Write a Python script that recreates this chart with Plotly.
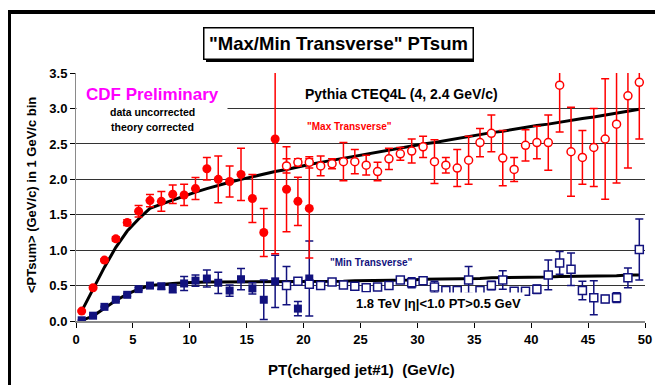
import plotly.graph_objects as go

# ---------------- data ----------------
# bin centres (1 GeV/c bins)
x_minbias = [0.5, 1.5, 2.5, 3.5, 4.5, 5.5, 6.5, 7.5, 8.5, 9.5, 10.5, 11.5, 12.5, 13.5,
             14.5, 15.5, 16.5, 17.5, 18.5, 19.5, 20.5]
x_jet20 = [18.5, 19.5, 20.5, 21.5, 22.5, 23.5, 24.5, 25.5, 26.5, 27.5, 28.5, 29.5, 30.5,
           31.5, 32.5, 33.5, 34.5, 35.5, 36.5, 37.5, 38.5, 39.5, 40.5, 41.5, 42.5, 43.5,
           44.5, 45.5, 46.5, 47.5, 48.5, 49.5]
x_theory = [0.5, 1.5, 2.5, 3.5, 4.5, 5.5, 6.5, 7.5, 8.5, 9.5, 10.5, 11.5, 12.5, 13.5, 14.5,
            15.5, 16.5, 17.5, 18.5, 19.5, 20.5, 21.5, 22.5, 23.5, 24.5, 25.5, 26.5, 27.5,
            28.5, 29.5, 30.5, 31.5, 32.5, 33.5, 34.5, 35.5, 36.5, 37.5, 38.5, 39.5, 40.5,
            41.5, 42.5, 43.5, 44.5, 45.5, 46.5, 47.5, 48.5, 49.5]

max_minbias = [0.14, 0.47, 0.86, 1.16, 1.39, 1.55, 1.70, 1.69, 1.79, 1.78, 1.87, 2.15, 2.00,
               1.97, 2.07, 1.73, 1.25, 2.57, 1.86, 1.69, 1.59]
max_minbias_err = [0.01, 0.01, 0.02, 0.03, 0.04, 0.08, 0.085, 0.14, 0.13, 0.15, 0.155, 0.16,
                   0.33, 0.22, 0.37, 0.34, 0.34, 1.62, 0.60, 0.34, 0.70]
max_jet20 = [2.19, 2.24, 2.24, 2.19, 2.22, 2.25, 2.25, 2.20, 2.11, 2.29, 2.36, 2.40, 2.46,
             2.25, 2.20, 2.16, 2.27, 2.52, 2.65, 2.30, 2.14, 2.48, 2.52, 2.52, 3.33, 2.39,
             2.31, 2.45, 2.57, 2.78, 3.18, 3.37]
max_jet20_err = [0.10, 0.05, 0.08, 0.14, 0.07, 0.27, 0.17, 0.14, 0.13, 0.15, 0.09, 0.17, 0.15,
                 0.31, 0.11, 0.26, 0.34, 0.20, 0.26, 0.39, 0.17, 0.22, 0.23, 0.39, 0.66, 0.63,
                 0.38, 0.55, 0.85, 0.83, 1.02, 0.80]

min_minbias = [0.01, 0.075, 0.20, 0.30, 0.37, 0.45, 0.50, 0.49, 0.46, 0.53, 0.57, 0.60, 0.54,
               0.43, 0.59, 0.46, 0.30, 0.56, 0.50, 0.175, 0.60]
min_minbias_err = [0.005, 0.01, 0.01, 0.02, 0.02, 0.02, 0.03, 0.04, 0.06, 0.10, 0.08, 0.12,
                   0.15, 0.08, 0.15, 0.08, 0.28, 0.37, 0.05, 0.10, 0.53]
min_jet20 = [0.50, 0.56, 0.52, 0.50, 0.55, 0.51, 0.49, 0.47, 0.48, 0.50, 0.58, 0.54, 0.57,
             0.48, 0.43, 0.43, 0.58, 0.43, 0.50, 0.58, 0.42, 0.42, 0.45, 0.65, 0.82, 0.73,
             0.43, 0.33, 0.31, 0.33, 0.61, 1.01]
min_jet20_err = [0.27, 0.03, 0.03, 0.03, 0.03, 0.03, 0.03, 0.03, 0.03, 0.03, 0.03, 0.07, 0.03,
                 0.08, 0.04, 0.04, 0.19, 0.04, 0.06, 0.13, 0.05, 0.05, 0.06, 0.21, 0.16, 0.23,
                 0.13, 0.24, 0.05, 0.07, 0.14, 0.43]

max_theory = [0.14, 0.45, 0.76, 1.04, 1.27, 1.44, 1.59, 1.65, 1.71, 1.76, 1.82, 1.87, 1.92,
              1.96, 2.00, 2.04, 2.08, 2.11, 2.14, 2.18, 2.21, 2.24, 2.27, 2.30, 2.33, 2.36,
              2.39, 2.42, 2.45, 2.47, 2.50, 2.52, 2.55, 2.58, 2.60, 2.63, 2.66, 2.68, 2.71,
              2.73, 2.76, 2.78, 2.81, 2.83, 2.86, 2.88, 2.91, 2.93, 2.96, 2.99]
min_theory = [0.01, 0.07, 0.18, 0.29, 0.38, 0.45, 0.50, 0.52, 0.53, 0.54, 0.55, 0.55, 0.55,
              0.55, 0.55, 0.55, 0.55, 0.55, 0.55, 0.55, 0.55, 0.555, 0.56, 0.56, 0.57, 0.57,
              0.57, 0.58, 0.58, 0.58, 0.59, 0.59, 0.59, 0.60, 0.60, 0.60, 0.61, 0.61, 0.61,
              0.62, 0.62, 0.62, 0.63, 0.63, 0.63, 0.64, 0.64, 0.64, 0.65, 0.65]

x_ticks = [0, 5, 10, 15, 20, 25, 30, 35, 40, 45, 50]
y_ticks = [0.0, 0.5, 1.0, 1.5, 2.0, 2.5, 3.0, 3.5]
y_tick_labels = ["0.0", "0.5", "1.0", "1.5", "2.0", "2.5", "3.0", "3.5"]

# ---------------- style ----------------
FONT = "Liberation Sans, Arial, sans-serif"
RED = "#ff0000"
NAVY = "#12127e"
GRID = "#333333"
W, H = 663, 385
OFF = 8  # the page body adds an 8px offset
# plot area in screen pixels
PX0, PX1, PY0, PY1 = 76, 645, 73, 321
ML, MT = PX0 - OFF, PY0 - OFF
MR, MB = W - (PX1 - OFF), H - (PY1 - OFF)
PW, PH = PX1 - PX0, PY1 - PY0
XR = [0, 50]
YR = [0, 3.502]


def pp(xp, yp):
    """screen pixel -> paper coordinates"""
    return (xp - PX0) / PW, (PY1 - yp) / PH


fig = go.Figure()

# theory curves
fig.add_trace(go.Scatter(x=x_theory, y=max_theory, mode="lines",
                         line=dict(color="black", width=3), hoverinfo="skip"))
fig.add_trace(go.Scatter(x=x_theory, y=min_theory, mode="lines",
                         line=dict(color="black", width=3), hoverinfo="skip"))

# data
fig.add_trace(go.Scatter(
    x=x_minbias, y=min_minbias, mode="markers",
    marker=dict(symbol="square", size=8, color=NAVY, line=dict(width=0)),
    error_y=dict(type="data", array=min_minbias_err, color=NAVY, thickness=1.5, width=4)))
fig.add_trace(go.Scatter(
    x=x_jet20, y=min_jet20, mode="markers",
    marker=dict(symbol="square", size=8, color="white", line=dict(color=NAVY, width=1.5)),
    error_y=dict(type="data", array=min_jet20_err, color=NAVY, thickness=1.5, width=4)))
fig.add_trace(go.Scatter(
    x=x_minbias, y=max_minbias, mode="markers",
    marker=dict(symbol="circle", size=9, color=RED, line=dict(width=0)),
    error_y=dict(type="data", array=max_minbias_err, color=RED, thickness=1.5, width=4)))
fig.add_trace(go.Scatter(
    x=x_jet20, y=max_jet20, mode="markers",
    marker=dict(symbol="circle", size=8, color="white", line=dict(color=RED, width=1.5)),
    error_y=dict(type="data", array=max_jet20_err, color=RED, thickness=1.5, width=4)))

bold = dict(family=FONT, weight="bold", color="black")

fig.update_layout(
    width=W, height=H, margin=dict(l=ML, r=MR, t=MT, b=MB, pad=0),
    paper_bgcolor="white", plot_bgcolor="white", showlegend=False,
    xaxis=dict(range=XR, tickvals=x_ticks, ticks="outside", ticklen=5, tickwidth=1,
               tickcolor="black", showgrid=False, zeroline=False, showline=True,
               linecolor="#8a8a8a", linewidth=2, tickfont=dict(size=13, **bold)),
    yaxis=dict(range=YR, tickvals=y_ticks, ticktext=y_tick_labels, ticks="outside",
               ticklen=5, tickwidth=1, tickcolor="black", showgrid=True, gridcolor=GRID,
               gridwidth=1, zeroline=False, showline=True, linecolor="#8a8a8a", linewidth=1,
               tickfont=dict(size=13, **bold)),
)

shapes = []
# drop shadow of the title box
x0, y0 = pp(206, 62)
x1, y1 = pp(474, 30)
shapes.append(dict(type="rect", xref="paper", yref="paper", x0=x0, y0=y0, x1=x1, y1=y1,
                   fillcolor="black", line=dict(width=0), layer="above"))
# outer frame
x0, y0 = pp(9, 400)
x1, y1 = pp(680, 12)
shapes.append(dict(type="rect", xref="paper", yref="paper", x0=x0, y0=y0, x1=x1, y1=y1,
                   line=dict(color="black", width=4), fillcolor="rgba(0,0,0,0)", layer="above"))
fig.update_layout(shapes=shapes)

ann = []


def add_text(text, xp, yp, size, color="black", **kw):
    ax, ay = pp(xp, yp)
    d = dict(text=text, x=ax, y=ay, xref="paper", yref="paper", xanchor="center",
             yanchor="middle", showarrow=False,
             font=dict(family=FONT, size=size, color=color, weight="bold"))
    d.update(kw)
    ann.append(d)


# white panel behind the "CDF Preliminary" block (blank box)
add_text(" ", 152, 104, 10, bgcolor="white", width=150, height=62, borderpad=0)
add_text('"Max/Min Transverse" PTsum', 338, 43, 18.5, bgcolor="white", bordercolor="black",
         borderwidth=1.5, borderpad=2, width=264, height=26)
add_text("CDF Preliminary", 152, 94, 17, color="#ff00ff")
add_text("data uncorrected", 152, 112, 10.5)
add_text("theory corrected", 152, 127, 10.5)
add_text("Pythia CTEQ4L (4, 2.4 GeV/c)", 401, 94, 14)
add_text('"Max Transverse"', 349, 126, 10, color=RED)
add_text('"Min Transverse"', 371, 262.5, 10, color=NAVY)
add_text("1.8 TeV |η|<1.0 PT>0.5 GeV", 438, 303, 13, bgcolor="white", borderpad=3)
add_text("&lt;PTsum&gt; (GeV/c) in 1 GeV/c bin", 31, 195, 13, textangle=-90)
add_text("PT(charged jet#1)&nbsp; (GeV/c)", 361, 369, 15)

fig.update_layout(annotations=ann)

fig.write_html("out.html")
